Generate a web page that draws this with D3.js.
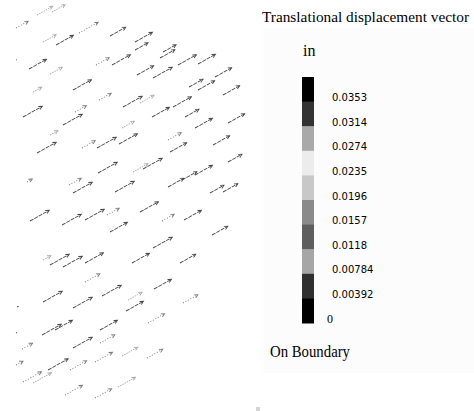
<!DOCTYPE html>
<html>
<head>
<meta charset="utf-8">
<script src="https://cdn.jsdelivr.net/npm/d3@7/dist/d3.min.js"></script>
<style>
body { margin: 0; background: #fff; }
</style>
</head>
<body>
<svg class="chart" width="474" height="411"></svg>
<script>
// vector tails in model space (inches), magnitude (in), tone class
var vecX = [3.7, 5.2, 1.6, 4.3, 5.6, 7.9, 11.0, 13.5, 13.5, 16.0, 16.3, 1.6, 2.9, 5.0, 9.6, 11.2, 13.7, 15.3, 17.8, 19.8,
    21.5, 3.3, 7.3, 9.9, 18.9, 19.8, 22.3, 2.3, 7.5, 12.3, 14.0, 15.2, 17.3, 18.5, 6.3, 12.2, 19.5, 22.8, 5.0, 3.7,
    8.2, 9.7, 11.9, 16.8, 17.0, 21.3, 9.8, 13.3, 14.3, 19.5, 22.8, 2.7, 6.9, 7.3, 11.5, 16.8, 18.2, 21.0, 22.3, 3.0,
    6.2, 8.5, 10.7, 14.0, 16.2, 18.4, 11.0, 21.2, 15.3, 4.3, 5.0, 6.3, 8.5, 13.2, 18.0, 8.5, 4.3, 7.3, 10.2, 12.8,
    12.6, 15.4, 18.3, 1.7, 4.2, 5.5, 10.0, 14.8, 1.6, 2.2, 7.3, 10.0, 1.6, 4.8, 7.0, 9.5, 12.2, 14.7, 2.3, 3.3,
    6.5, 9.5, 11.8];
var vecY = [39.6, 39.9, 38.3, 36.9, 36.6, 37.8, 37.5, 36.9, 36.1, 35.3, 35.9, 35.1, 34.2, 33.7, 34.6, 34.6, 33.6, 33.3, 34.6, 34.7,
    33.4, 31.9, 32.1, 31.1, 32.4, 32.1, 31.6, 29.4, 29.9, 30.4, 30.8, 29.4, 30.4, 29.4, 28.6, 28.3, 28.3, 28.8, 27.6, 25.8,
    26.3, 26.3, 26.7, 27.1, 25.9, 26.6, 23.8, 23.9, 24.2, 23.6, 24.9, 22.9, 22.6, 21.8, 21.9, 22.4, 23.1, 21.8, 21.9, 19.0,
    18.6, 19.1, 19.6, 19.9, 19.0, 19.1, 17.9, 17.6, 16.3, 15.1, 14.6, 14.4, 14.8, 14.8, 14.8, 12.9, 10.9, 10.3, 11.5, 11.1,
    10.0, 12.2, 10.8, 10.4, 7.6, 8.1, 8.1, 8.8, 7.8, 6.2, 6.3, 6.8, 4.6, 4.1, 4.1, 4.9, 5.5, 5.3, 2.9, 2.8,
    1.6, 1.3, 2.4];
var vecMag = [0.0288, 0.024, 0.0224, 0.024, 0.032, 0.0352, 0.0288, 0.032, 0.024, 0.0272, 0.024, 0.0032, 0.032, 0.0224, 0.024, 0.0336, 0.0304, 0.0352, 0.0336, 0.032,
    0.0304, 0.016, 0.0336, 0.0224, 0.0256, 0.0304, 0.0304, 0.0352, 0.0208, 0.0352, 0.0256, 0.032, 0.0336, 0.0256, 0.0352, 0.0224, 0.032, 0.0304, 0.0144, 0.0352,
    0.024, 0.0352, 0.0336, 0.024, 0.0304, 0.0304, 0.0352, 0.0272, 0.0352, 0.032, 0.0256, 0.0096, 0.0224, 0.0352, 0.0352, 0.0288, 0.0272, 0.0256, 0.0272, 0.0352,
    0.0352, 0.0352, 0.0224, 0.0336, 0.0224, 0.032, 0.032, 0.0288, 0.0352, 0.0144, 0.0352, 0.0352, 0.0336, 0.032, 0.0288, 0.0272, 0.0352, 0.0352, 0.0352, 0.0256,
    0.032, 0.032, 0.0272, 0.0032, 0.0352, 0.032, 0.032, 0.0304, 0.0016, 0.0192, 0.0352, 0.0272, 0.0128, 0.0368, 0.0304, 0.032, 0.0288, 0.0288, 0.0336, 0.0336,
    0.032, 0.0304, 0.032];
var vecTone = "llmldmdddd" + "dmdlmddddd" + "dldmddddmd" + "lddddlddld" + "mddmdddldd" +
    "dmmddddddd" + "ddmdmddddl" + "dddddmdddl" + "ddmddddmdm" + "dmmdmmlmml" + "mml";
var vecAngle = 29; // degrees above horizontal

var legendTitle = "Translational displacement vector";
var legendUnit = "in";
var legendLabels = ["0.0353", "0.0314", "0.0274", "0.0235", "0.0196", "0.0157", "0.0118", "0.00784", "0.00392", "0"];
var legendColors = ["#000000", "#333333", "#a9a9a9", "#ececec", "#c8c8c8", "#8a8a8a", "#5e5e5e", "#a6a6a6", "#2f2f2f", "#000000"];
var boundaryLabel = "On Boundary";

var svg = d3.select('svg.chart');

var x = d3.scaleLinear().domain([0, 24.5]).range([0, 245]);
var y = d3.scaleLinear().domain([0, 41.1]).range([411, 0]);
var len = d3.scaleLinear().domain([0, 0.0352]).range([0, 22]);

var toneColor = { d: "#4a4a4a", m: "#7a7a7a", l: "#aaaaaa" };
var toneDash = { d: "4,1", m: "1,1.8", l: "1.5,1" };

var vecs = vecX.map(function (vx, i) {
    return { x: vx, y: vecY[i], m: vecMag[i], t: vecTone[i] || "d" };
});

// legend background
var legend = svg.append('g').attr('class', 'legend');
legend.append('rect')
    .attr('x', 263).attr('y', 28)
    .attr('width', 211).attr('height', 345)
    .attr('fill', '#fcfcfc');

var field = svg.append('g').attr('class', 'field');

var arrows = field.selectAll('.vec')
    .data(vecs)
    .enter()
    .append('g')
    .attr('class', 'vec')
    .attr('transform', function (d) {
        return "translate(" + x(d.x) + "," + y(d.y) + ") rotate(" + (-vecAngle) + ")";
    });

arrows.append('line')
    .attr('x1', 0).attr('y1', 0)
    .attr('x2', function (d) { return len(d.m); })
    .attr('y2', 0)
    .attr('stroke', function (d) { return toneColor[d.t]; })
    .attr('stroke-width', 0.9)
    .attr('stroke-dasharray', function (d) { return toneDash[d.t]; });

arrows.filter(function (d) { return len(d.m) > 5; })
    .append('path')
    .attr('d', function (d) {
        var L = len(d.m);
        return "M" + (L - 3.5) + ",-1.8L" + L + ",0L" + (L - 3.5) + ",1.8";
    })
    .attr('fill', 'none')
    .attr('stroke', function (d) { return toneColor[d.t]; })
    .attr('stroke-width', 0.9);

// legend
legend.append('text')
    .attr('x', 262).attr('y', 22)
    .attr('font-family', 'Liberation Serif, Times New Roman, serif')
    .attr('font-size', 15)
    .attr('textLength', 207)
    .attr('lengthAdjust', 'spacingAndGlyphs')
    .attr('fill', '#000')
    .text(legendTitle);

legend.append('text')
    .attr('x', 303).attr('y', 56)
    .attr('font-family', 'Liberation Serif, Times New Roman, serif')
    .attr('font-size', 16)
    .attr('fill', '#000')
    .text(legendUnit);

var band = d3.scaleBand()
    .domain(legendLabels)
    .range([77, 323])
    .paddingInner(0);

legend.selectAll('.swatch')
    .data(legendLabels)
    .enter()
    .append('rect')
    .attr('class', 'swatch')
    .attr('x', 302)
    .attr('y', function (d) { return band(d); })
    .attr('width', 12)
    .attr('height', band.bandwidth() + 0.5)
    .attr('fill', function (d, i) { return legendColors[i]; });

legend.selectAll('.tick')
    .data(legendLabels)
    .enter()
    .append('text')
    .attr('class', 'tick')
    .attr('x', function (d) { return d === "0" ? 327 : 332; })
    .attr('y', function (d) { return band(d) + band.bandwidth() - 0.5; })
    .attr('font-family', function (d) { return d === "0" ? 'Liberation Serif, serif' : 'DejaVu Sans, sans-serif'; })
    .attr('font-size', function (d) { return d === "0" ? 12 : 10; })
    .attr('fill', '#000')
    .text(function (d) { return d; });

legend.append('text')
    .attr('x', 270).attr('y', 357)
    .attr('font-family', 'Liberation Serif, Times New Roman, serif')
    .attr('font-size', 16)
    .attr('textLength', 80)
    .attr('lengthAdjust', 'spacingAndGlyphs')
    .attr('fill', '#000')
    .text(boundaryLabel);

// small marker below the field
svg.append('rect')
    .attr('x', 256).attr('y', 407)
    .attr('width', 4).attr('height', 4)
    .attr('fill', '#d4d4d4');
</script>
</body>
</html>
